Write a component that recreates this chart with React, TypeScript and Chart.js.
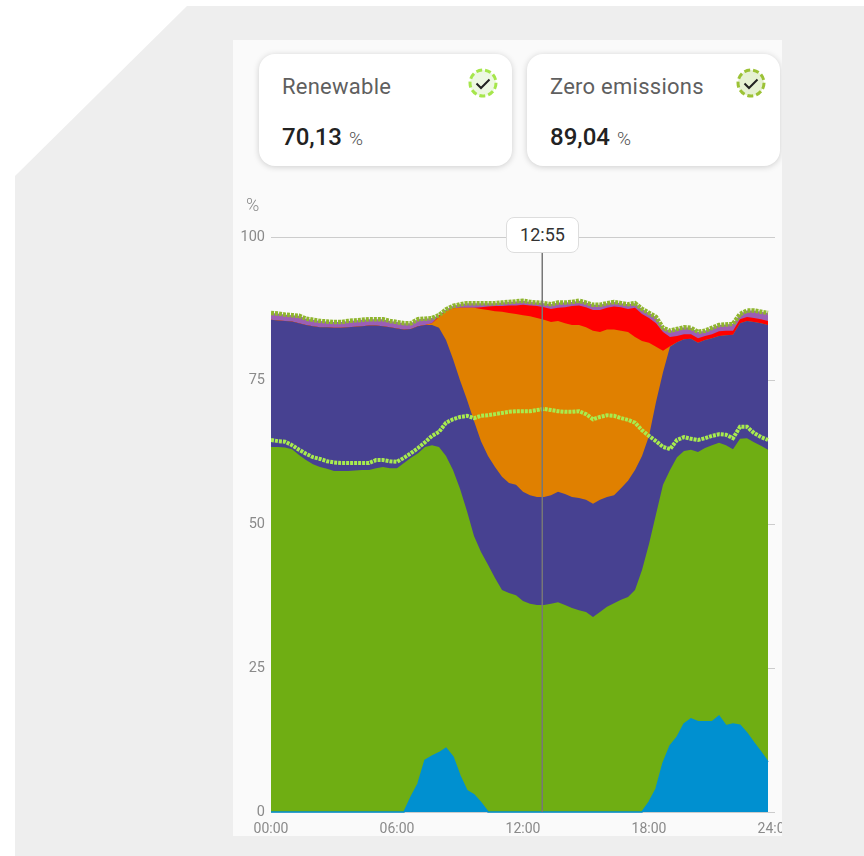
import React, { useEffect, useRef } from "react";
import { Chart, registerables } from "chart.js";

Chart.register(...registerables);

const minutes = [
  0, 20, 40, 60, 80, 100, 120, 140, 160, 180,
  200, 220, 240, 260, 280, 300, 320, 340, 360, 380,
  400, 420, 440, 460, 480, 500, 520, 540, 560, 580,
  600, 620, 640, 660, 680, 700, 720, 740, 760, 780,
  800, 820, 840, 860, 880, 900, 920, 940, 960, 980,
  1000, 1020, 1040, 1060, 1080, 1100, 1120, 1140, 1160, 1180,
  1200, 1220, 1240, 1260, 1280, 1300, 1320, 1340, 1360, 1380, 1400, 1420,
];

const xTicks = [0, 360, 720, 1080, 1440];
const xTickLabels = ["00:00", "06:00", "12:00", "18:00", "24:00"];
const cursorMinute = 775;
const cursorLabel = "12:55";

const topLevel = [
  86.8, 86.7, 86.5, 86.4, 86.3, 85.8, 85.6, 85.4, 85.3, 85.2,
  85.2, 85.4, 85.5, 85.6, 85.7, 85.7, 85.7, 85.4, 85.2, 85.0,
  85.0, 85.7, 85.8, 85.9, 86.4, 87.4, 88.0, 88.3, 88.5, 88.5,
  88.5, 88.5, 88.5, 88.6, 88.7, 88.8, 88.9, 88.7, 88.6, 88.5,
  88.3, 88.6, 88.6, 88.7, 88.9, 88.6, 88.2, 88.2, 88.5, 88.7,
  88.5, 88.3, 88.5, 87.5, 86.8, 86.1, 84.2, 83.7, 84.0, 84.3,
  84.2, 83.5, 83.7, 84.2, 84.7, 84.8, 84.9, 86.6, 87.2, 87.2, 87.0, 86.8,
];

const redLevel = [
  85.6, 85.5, 85.4, 85.3, 85.0, 84.7, 84.5, 84.3, 84.3, 84.2,
  84.2, 84.3, 84.4, 84.5, 84.6, 84.6, 84.5, 84.3, 84.1, 83.9,
  84.0, 84.5, 84.7, 85.0, 86.3, 87.1, 87.6, 87.7, 87.7, 87.7,
  87.8, 87.9, 88.0, 88.0, 88.1, 88.1, 88.2, 88.1, 88.0, 87.8,
  87.5, 87.7, 87.8, 88.0, 88.1, 87.8, 87.3, 87.3, 87.7, 87.9,
  87.8, 87.5, 87.7, 86.6, 85.9, 85.0, 83.5, 82.6, 82.8, 83.1,
  83.1, 82.4, 82.8, 83.1, 83.6, 83.7, 83.7, 85.7, 86.1, 85.9, 85.7, 85.4,
];

const orangeLevel = [
  85.6, 85.5, 85.4, 85.3, 85.0, 84.7, 84.5, 84.3, 84.3, 84.2,
  84.2, 84.3, 84.4, 84.5, 84.6, 84.6, 84.5, 84.3, 84.1, 83.9,
  84.0, 84.5, 84.7, 85.0, 86.1, 87.1, 87.6, 87.7, 87.7, 87.7,
  87.5, 87.3, 87.1, 87.0, 86.8, 86.6, 86.4, 86.2, 85.9, 85.6,
  85.2, 85.4, 85.0, 84.7, 84.7, 84.3, 83.7, 83.5, 83.9, 83.9,
  83.7, 83.5, 82.6, 81.9, 81.6, 80.9, 80.2, 81.0, 81.7, 82.2,
  82.3, 81.6, 82.1, 82.4, 82.8, 82.9, 83.0, 85.0, 85.4, 85.2, 85.0, 84.7,
];

const indigoLevel = [
  85.6, 85.5, 85.4, 85.3, 85.0, 84.7, 84.5, 84.3, 84.3, 84.2,
  84.2, 84.3, 84.4, 84.5, 84.6, 84.6, 84.5, 84.3, 84.1, 83.9,
  84.0, 84.5, 84.7, 84.7, 84.2, 82.1, 78.8, 75.1, 71.7, 68.0,
  64.5, 61.9, 60.0, 58.3, 57.2, 56.9, 55.7, 55.1, 54.8, 54.8,
  55.1, 55.7, 55.3, 54.8, 54.6, 54.3, 53.6, 54.3, 54.8, 55.1,
  56.3, 57.6, 59.5, 61.9, 65.4, 71.3, 76.5, 80.9, 81.7, 82.2,
  82.3, 81.6, 82.1, 82.4, 82.8, 82.9, 83.0, 85.0, 85.4, 85.2, 85.0, 84.7,
];

const greenLevel = [
  63.5, 63.5, 63.4, 63.1, 62.1, 61.2, 60.5, 60.0, 59.7, 59.3,
  59.3, 59.3, 59.4, 59.5, 59.5, 59.8, 60.0, 59.8, 59.8, 60.7,
  61.6, 62.4, 63.5, 63.8, 63.5, 61.9, 59.5, 56.2, 52.3, 48.0,
  45.2, 43.0, 40.7, 38.6, 38.1, 37.7, 36.7, 36.2, 36.0, 36.0,
  36.2, 36.5, 36.0, 35.5, 35.1, 34.8, 33.9, 34.8, 35.7, 36.3,
  36.9, 37.4, 38.6, 42.1, 46.6, 51.8, 56.9, 59.5, 61.7, 62.8,
  63.0, 62.6, 63.3, 63.8, 64.2, 63.8, 63.1, 64.9, 65.0, 64.3, 63.7, 63.0,
];

const blueLevel = [
  0, 0, 0, 0, 0, 0, 0, 0, 0, 0,
  0, 0, 0, 0, 0, 0, 0, 0, 0, 0,
  2.6, 4.9, 9.0, 9.7, 10.3, 11.1, 9.6, 6.3, 3.7, 3.0,
  1.6, 0, 0, 0, 0, 0, 0, 0, 0, 0,
  0, 0, 0, 0, 0, 0, 0, 0, 0, 0,
  0, 0, 0, 0, 1.7, 4.0, 8.5, 11.5, 13.0, 15.3,
  16.2, 15.7, 15.7, 15.7, 16.7, 15.0, 15.3, 15.1, 13.7, 12.0, 10.4, 8.7,
];

const limeLine = [
  64.7, 64.5, 64.4, 63.8, 63.0, 62.3, 61.7, 61.4, 61.0, 60.8,
  60.7, 60.7, 60.7, 60.7, 60.7, 61.2, 61.2, 61.0, 60.9, 61.6,
  62.4, 63.3, 64.3, 65.4, 66.1, 67.7, 68.3, 68.7, 68.9, 68.5,
  68.9, 69.0, 69.2, 69.4, 69.6, 69.7, 69.7, 69.7, 69.9, 70.1,
  69.9, 69.7, 69.6, 69.6, 69.7, 69.2, 68.3, 68.7, 69.0, 68.9,
  68.5, 68.2, 67.7, 66.4, 65.4, 64.5, 63.5, 63.1, 64.7, 65.2,
  64.9, 64.7, 65.0, 65.4, 65.7, 65.6, 65.0, 67.0, 67.0, 65.9, 65.2, 64.7,
];

const cards = [
  { title: "Renewable", value: "70,13", left: 26, width: 253, stroke: "#a6e64c", fill: "#edf8e2" },
  { title: "Zero emissions", value: "89,04", left: 294, width: 253, stroke: "#9cc236", fill: "#e6f1d3" },
];

const FONT = "Roboto, sans-serif";

const pts = (values: number[]) => values.map((y, i) => ({ x: minutes[i], y }));

const area = (values: number[], color: string) => ({
  data: pts(values),
  backgroundColor: color,
  borderColor: color,
  borderWidth: 0,
  pointRadius: 0,
  fill: "origin",
  tension: 0,
});

export default function App() {
  const ref = useRef<HTMLCanvasElement>(null);

  useEffect(() => {
    const chart = new Chart(ref.current!, {
      type: "line",
      data: {
        datasets: [
          {
            data: [{ x: cursorMinute, y: 0 }, { x: cursorMinute, y: 100 }],
            borderColor: "#777777",
            borderWidth: 1.5,
            pointRadius: 0,
            fill: false,
          },
          {
            data: pts(limeLine),
            borderColor: "#a8ec4e",
            borderWidth: 4,
            borderDash: [3, 1],
            pointRadius: 0,
            fill: false,
            tension: 0,
          },
          {
            data: pts(topLevel),
            borderColor: "#8fb52e",
            borderWidth: 4.5,
            borderDash: [3, 1],
            pointRadius: 0,
            fill: false,
            tension: 0,
          },
          { ...area(blueLevel, "#0090d0"), borderWidth: 1.5, clip: false },
          area(greenLevel, "#6fae13"),
          area(indigoLevel, "#474191"),
          area(orangeLevel, "#e08000"),
          area(redLevel, "#ff0000"),
          area(topLevel, "#9b5fb5"),
        ],
      } as any,
      options: {
        animation: false,
        responsive: false,
        events: [],
        layout: { padding: { top: 47, right: 58, left: 0, bottom: 0 } },
        plugins: { legend: { display: false }, tooltip: { enabled: false } },
        scales: {
          x: {
            type: "linear",
            min: 0,
            max: 1440,
            grid: { display: false },
            border: { display: false },
            afterFit: (s: any) => { s.height = 24; },
            afterBuildTicks: (s: any) => { s.ticks = xTicks.map((value) => ({ value })); },
            ticks: {
              autoSkip: false,
              maxRotation: 0,
              padding: 1,
              color: "#8a8a8a",
              font: { family: FONT, size: 14 },
              callback: (v: any) => xTickLabels[xTicks.indexOf(Number(v))] ?? "",
            },
          },
          y: {
            min: 0,
            max: 100,
            afterFit: (s: any) => { s.width = 38; },
            grid: { color: "#cccccc", lineWidth: 1, drawTicks: false },
            border: { display: false },
            ticks: {
              stepSize: 25,
              padding: 6,
              color: "#8a8a8a",
              font: { family: FONT, size: 14.5 },
            },
          },
        },
      } as any,
    });
    return () => chart.destroy();
  }, []);

  return (
    <div style={{ position: "relative", width: 864, height: 856, overflow: "hidden", background: "#ffffff", fontFamily: FONT }}>
      <style>{"html,body{margin:0;padding:0;background:#fff}"}</style>
      <div
        style={{
          position: "absolute",
          inset: 0,
          background: "#eeeeee",
          clipPath: "polygon(187px 6px, 864px 6px, 864px 856px, 15px 856px, 15px 176px)",
        }}
      />
      <div style={{ position: "absolute", left: 233, top: 40, width: 549, height: 796, background: "#fafafa", overflow: "hidden" }}>
        <canvas ref={ref} width={600} height={646} style={{ position: "absolute", left: 0, top: 150, width: 600, height: 646 }} />
        <div style={{ position: "absolute", left: 13, top: 154, fontSize: 18, fontWeight: 300, color: "#8a8a8a" }}>%</div>
        {cards.map((c) => (
          <div
            key={c.title}
            style={{
              position: "absolute",
              left: c.left,
              top: 14,
              width: c.width,
              height: 112,
              background: "#ffffff",
              borderRadius: 16,
              boxShadow: "0 1px 6px rgba(0,0,0,0.18)",
            }}
          >
            <div style={{ position: "absolute", left: 23, top: 20, fontSize: 22, letterSpacing: 0.25, color: "#5f5f5f", whiteSpace: "nowrap" }}>{c.title}</div>
            <div style={{ position: "absolute", left: 23, top: 69, whiteSpace: "nowrap", color: "#222222" }}>
              <span style={{ fontSize: 24, fontWeight: 500 }}>{c.value}</span>
              <span style={{ fontSize: 19, fontWeight: 300, color: "#555555", marginLeft: 7 }}>%</span>
            </div>
            <svg width="32" height="32" style={{ position: "absolute", left: c.width - 45, top: 14 }}>
              <circle cx="16" cy="15" r="13" fill={c.fill} stroke={c.stroke} strokeWidth="3" strokeDasharray="6 3" />
              <path d="M9.5 15.5 L14 20 L22.5 11.5" fill="none" stroke="#222222" strokeWidth="2" />
            </svg>
          </div>
        ))}
        <div
          style={{
            position: "absolute",
            left: 273,
            top: 177,
            width: 73,
            height: 36,
            boxSizing: "border-box",
            background: "#ffffff",
            border: "1.5px solid #dddddd",
            borderRadius: 8,
            textAlign: "center",
            lineHeight: "33px",
            fontSize: 18,
            color: "#333333",
          }}
        >
          {cursorLabel}
        </div>
      </div>
    </div>
  );
}
